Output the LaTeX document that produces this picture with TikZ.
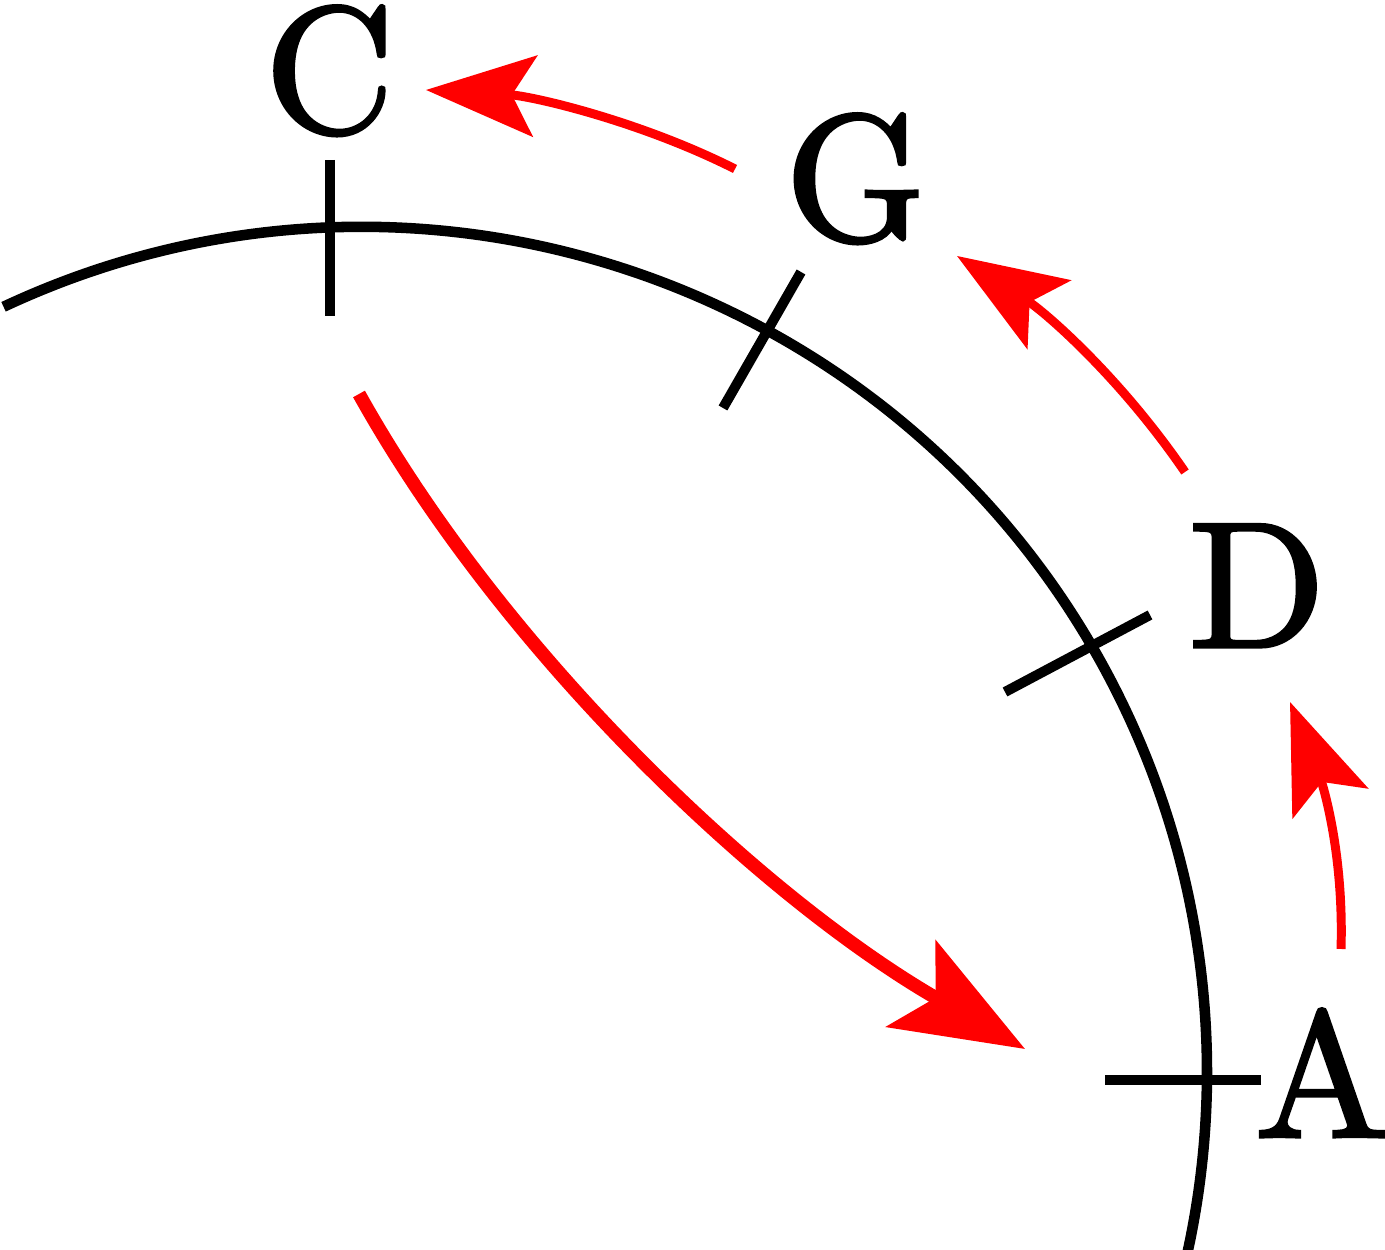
\documentclass[tikz,border=0pt]{standalone}
\usetikzlibrary{arrows.meta}
\font\lblfont="[lmroman10-regular.otf]:embolden=1.8" at 51pt
\begin{document}
\begin{tikzpicture}[x=0.1mm,y=0.1mm,
  arcline/.style={line width=3pt,black},
  tickline/.style={line width=2.85pt,black},
  bigarrow/.style={line width=3.85pt,red,-{Stealth[length=13.1mm,width=9.9mm,inset=2.8mm]}},
  thinarrow/.style={line width=2.55pt,red,-{Stealth[length=10.9mm,width=8.1mm,inset=2.3mm]}},
  lbl/.style={inner sep=0pt,anchor=base,font=\lblfont}]
\useasboundingbox (0,0) rectangle (1385,1250);
% main arc
\coordinate (O) at (362,178);
\draw[arcline] (O) ++(115.1:845) arc[start angle=115.1,end angle=-13,radius=84.5mm];
% ticks
\coordinate (c1) at (330,1090); \coordinate (c2) at (330,934);
\coordinate (g1) at (801,978);  \coordinate (g2) at (723,842);
\coordinate (d1) at (1150,635); \coordinate (d2) at (1005,558);
\coordinate (a1) at (1261,170); \coordinate (a2) at (1105,170);
\draw[tickline] (c1) -- (c2);
\draw[tickline] (g1) -- (g2);
\draw[tickline] (d1) -- (d2);
\draw[tickline] (a1) -- (a2);
% labels
\node[lbl] (C) at (329.5,1118) {C};
\node[lbl] (G) at (855.5,1010) {G};
\node[lbl] (D) at (1257,603) {D};
\node[lbl] (A) at (1322,113) {A};
% arrows
\coordinate (ca0) at (359,856);  \coordinate (ca1) at (1025,201);
\draw[bigarrow] (ca0) .. controls (505,594) and (765,350) .. (ca1);
\coordinate (ad0) at (1341,301); \coordinate (ad1) at (1290,548);
\draw[thinarrow] (ad0) .. controls (1344,401) and (1321,470) .. (ad1);
\coordinate (dg0) at (1185,778); \coordinate (dg1) at (957,994);
\draw[thinarrow] (dg0) .. controls (1120,873) and (1045,938) .. (dg1);
\coordinate (gc0) at (735,1081); \coordinate (gc1) at (426,1160);
\draw[thinarrow] (gc0) .. controls (640,1129) and (532,1154) .. (gc1);
\end{tikzpicture}
\end{document}
